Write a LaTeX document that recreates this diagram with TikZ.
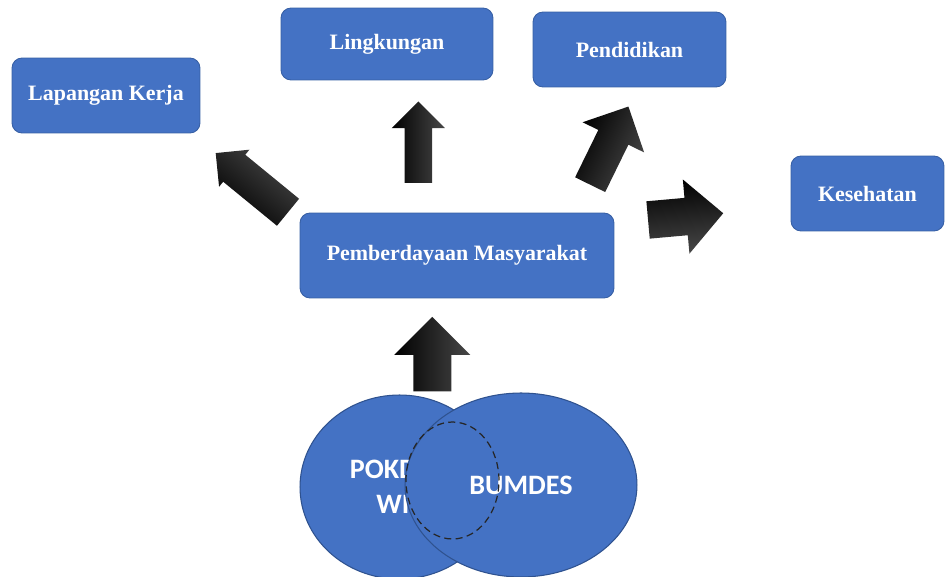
\documentclass[tikz,border=0pt]{standalone}
\usepackage{fontspec}
\setmainfont{Liberation Serif}
\newfontfamily\calibrifont{Carlito}
\usetikzlibrary{shapes.geometric,shapes.arrows}

\definecolor{boxblue}{RGB}{68,114,196}
\definecolor{boxline}{RGB}{47,82,143}

\begin{document}
\begin{tikzpicture}[
    x=0.02cm, y=-0.02cm,
    goal/.style={rectangle, draw=boxline!60!boxblue, line width=0.5pt, fill=boxblue, rounded corners=0.2cm,
        text=white, font=\bfseries\fontsize{12.5}{15}\selectfont, minimum height=1.5cm},
    group/.style={ellipse, draw=boxline, line width=0.6pt, fill=boxblue, inner sep=0pt, text=white,
        align=center, font=\calibrifont\bfseries\fontsize{16}{20}\selectfont},
    bigarrow/.style={single arrow, inner xsep=0pt, anchor=tail, top color=black, bottom color=black!72}
]
\useasboundingbox (0,0) rectangle (948,577);

% Goals
\node[goal, minimum width=3.76cm] (kerja) at (106,95.5) {Lapangan Kerja};
\node[goal, minimum width=4.24cm, minimum height=1.44cm] (lingk) at (387,44) {Lingkungan};
\node[goal, minimum width=3.86cm] (didik) at (629.5,49.5) {Pendidikan};
\node[goal, minimum width=3.06cm] (sehat) at (867.5,193.5) {Kesehatan};

% Centre
\node[goal, minimum width=6.28cm, minimum height=1.7cm] (daya) at (457,255.5) {Pemberdayaan Masyarakat};

% Block arrows
\node[bigarrow, rotate=140.7, shading angle=140.7, inner ysep=0.342cm, minimum height=1.87cm,
    minimum width=0.95cm, single arrow head extend=0.13cm] (a-kerja) at (288.3,212.5) {};
\node[bigarrow, rotate=90, shading angle=90, inner ysep=0.267cm, minimum height=1.63cm,
    minimum width=1.05cm, single arrow head extend=0.26cm] (a-lingk) at (418.3,183.3) {};
\node[bigarrow, rotate=63.9, shading angle=63.9, inner ysep=0.328cm, minimum height=1.74cm,
    minimum width=1.36cm, single arrow head extend=0.35cm] (a-didik) at (590,185) {};
\node[bigarrow, rotate=5.1, shading angle=5.1, inner ysep=0.368cm, minimum height=1.51cm,
    minimum width=1.47cm, single arrow head extend=0.37cm] (a-sehat) at (647.7,220) {};
\node[bigarrow, rotate=90, shading angle=90, inner ysep=0.374cm, minimum height=1.49cm,
    minimum width=1.5cm, single arrow head extend=0.38cm] (a-daya) at (432.3,391.7) {};

% Groups
\node[group, minimum width=3.98cm, minimum height=3.68cm] (pokdar) at (399.5,487) {POKDAR\\WIS};
\node[group, minimum width=4.64cm, minimum height=3.68cm] (bumdes) at (521,485) {BUMDES};
\node[ellipse, draw=black!85, dashed, dash pattern=on 4pt off 2.5pt, line width=0.7pt,
    minimum width=1.86cm, minimum height=2.34cm] (irisan) at (452.5,480.5) {};

\end{tikzpicture}
\end{document}
